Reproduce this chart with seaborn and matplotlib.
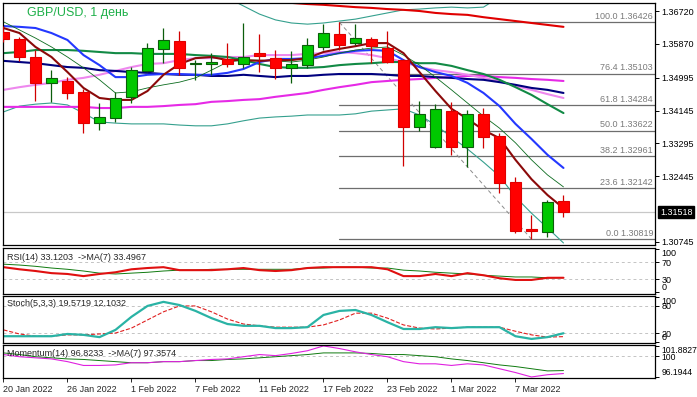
import matplotlib
matplotlib.use('Agg')
import matplotlib.pyplot as plt
import matplotlib.transforms as mtransforms
import seaborn as sns

# --- daily candles, 20 Jan 2022 .. 10 Mar 2022 ---
days = list(range(36))
opens = [1.36177, 1.35996, 1.35530, 1.34858, 1.34910, 1.34625, 1.33823, 1.33952, 1.34496, 1.35168,
         1.35737, 1.35944, 1.35349, 1.35349, 1.35478, 1.35349, 1.35634, 1.35504, 1.35246, 1.35323,
         1.35789, 1.36125, 1.35893, 1.35996, 1.35763, 1.35453, 1.33720, 1.33202, 1.34134, 1.33202,
         1.34056, 1.33487, 1.32297, 1.31081, 1.31003, 1.31805]
highs = [1.36332, 1.36048, 1.35711, 1.35194, 1.35013, 1.34703, 1.34340, 1.34625, 1.35272, 1.35893,
         1.36281, 1.36203, 1.35453, 1.35634, 1.35893, 1.36420, 1.36125, 1.35711, 1.35686, 1.36022,
         1.36384, 1.36426, 1.36384, 1.36048, 1.36203, 1.35478, 1.34392, 1.34315, 1.34366, 1.34159,
         1.34211, 1.33564, 1.32426, 1.31443, 1.31831, 1.31960]
lows = [1.35918, 1.35427, 1.34392, 1.34366, 1.34444, 1.33564, 1.33642, 1.33849, 1.34340, 1.35142,
        1.35375, 1.35065, 1.34935, 1.35065, 1.35272, 1.35246, 1.35142, 1.34961, 1.34858, 1.35246,
        1.35711, 1.35711, 1.35841, 1.35375, 1.35375, 1.32711, 1.33616, 1.33176, 1.32995, 1.32685,
        1.33176, 1.32012, 1.30977, 1.30819, 1.30873, 1.31391]
closes = [1.35996, 1.35530, 1.34858, 1.34987, 1.34599, 1.33823, 1.33978, 1.34470, 1.35194, 1.35763,
          1.35970, 1.35246, 1.35375, 1.35401, 1.35349, 1.35530, 1.35556, 1.35246, 1.35349, 1.35841,
          1.36151, 1.35841, 1.36022, 1.35815, 1.35401, 1.33720, 1.34056, 1.34185, 1.33202, 1.34056,
          1.33461, 1.32271, 1.31029, 1.31029, 1.31779, 1.31518]

# --- moving averages / bands ---
ma_maroon = [1.3628, 1.3615, 1.3579, 1.3553, 1.3514, 1.3473, 1.3447, 1.3442, 1.3442, 1.3465,
             1.3507, 1.3535, 1.3550, 1.3553, 1.3545, 1.3545, 1.3543, 1.3545, 1.3545, 1.3550,
             1.3566, 1.3574, 1.3581, 1.3589, 1.3589, 1.3563, 1.3514, 1.3465, 1.3419, 1.3393,
             1.3364, 1.3343, 1.3287, 1.3237, 1.3196, 1.3162]
ma_thin = [1.3644, 1.3623, 1.3602, 1.3579, 1.3553, 1.3525, 1.3494, 1.3460, 1.3463, 1.3473,
           1.3481, 1.3488, 1.3499, 1.3519, 1.3540, 1.3545, 1.3545, 1.3543, 1.3540, 1.3545,
           1.3553, 1.3563, 1.3571, 1.3576, 1.3579, 1.3558, 1.3532, 1.3501, 1.3468, 1.3434,
           1.3400, 1.3369, 1.3331, 1.3287, 1.3248, 1.3217]
ma_blue = [1.3633, 1.3631, 1.3628, 1.3615, 1.3597, 1.3558, 1.3532, 1.3501, 1.3501, 1.3507,
           1.3509, 1.3509, 1.3507, 1.3507, 1.3512, 1.3522, 1.3540, 1.3548, 1.3548, 1.3550,
           1.3556, 1.3563, 1.3569, 1.3571, 1.3569, 1.3545, 1.3527, 1.3514, 1.3504, 1.3486,
           1.3460, 1.3426, 1.3380, 1.3341, 1.3300, 1.3266]
ma_navy = [1.3543, 1.3540, 1.3537, 1.3532, 1.3527, 1.3525, 1.3519, 1.3517, 1.3514, 1.3512,
           1.3509, 1.3507, 1.3507, 1.3504, 1.3504, 1.3507, 1.3504, 1.3501, 1.3504, 1.3504,
           1.3507, 1.3509, 1.3509, 1.3509, 1.3507, 1.3504, 1.3504, 1.3501, 1.3499, 1.3496,
           1.3494, 1.3488, 1.3481, 1.3473, 1.3468, 1.3460]
ma_green = [1.3563, 1.3566, 1.3571, 1.3571, 1.3571, 1.3569, 1.3566, 1.3563, 1.3563, 1.3561,
            1.3561, 1.3561, 1.3558, 1.3556, 1.3553, 1.3545, 1.3535, 1.3527, 1.3525, 1.3525,
            1.3527, 1.3532, 1.3535, 1.3537, 1.3540, 1.3540, 1.3537, 1.3537, 1.3530, 1.3519,
            1.3509, 1.3494, 1.3475, 1.3455, 1.3431, 1.3408]
ma_violet = [1.3468, 1.3475, 1.3481, 1.3486, 1.3494, 1.3499, 1.3507, 1.3517, 1.3527, 1.3535,
             1.3537, 1.3545, 1.3550, 1.3550, 1.3553, 1.3553, 1.3558, 1.3558, 1.3558, 1.3561,
             1.3563, 1.3566, 1.3563, 1.3558, 1.3550, 1.3540, 1.3527, 1.3519, 1.3514, 1.3507,
             1.3499, 1.3491, 1.3478, 1.3468, 1.3457, 1.3447]
ma_magenta = [1.3424, 1.3424, 1.3424, 1.3424, 1.3424, 1.3424, 1.3421, 1.3421, 1.3424, 1.3424,
              1.3426, 1.3429, 1.3431, 1.3437, 1.3439, 1.3442, 1.3444, 1.3450, 1.3455, 1.3460,
              1.3468, 1.3475, 1.3481, 1.3488, 1.3491, 1.3494, 1.3496, 1.3499, 1.3501, 1.3504,
              1.3504, 1.3501, 1.3499, 1.3496, 1.3494, 1.3491]
red_days = list(range(16, 36))
ma_red = [1.3698, 1.3695, 1.3693, 1.3690, 1.3688, 1.3685, 1.3682, 1.3680, 1.3677, 1.3675,
          1.3672, 1.3667, 1.3664, 1.3662, 1.3656, 1.3651, 1.3646, 1.3641, 1.3636, 1.3631]
bb_up_days = list(range(14, 32))
bb_upper = [1.3706, 1.3685, 1.3664, 1.3649, 1.3641, 1.3638, 1.3641, 1.3646, 1.3651, 1.3659,
            1.3667, 1.3675, 1.3677, 1.3680, 1.3682, 1.3680, 1.3682, 1.3708]
bb_lower = [1.3411, 1.3426, 1.3431, 1.3434, 1.3429, 1.3408, 1.3385, 1.3382, 1.3380, 1.3380,
            1.3380, 1.3377, 1.3375, 1.3375, 1.3380, 1.3388, 1.3395, 1.3398, 1.3400, 1.3403,
            1.3403, 1.3403, 1.3406, 1.3413, 1.3416, 1.3419, 1.3403, 1.3377, 1.3346, 1.3315,
            1.3281, 1.3245, 1.3191, 1.3149, 1.3111, 1.3072]

fib_names = ['100.0', '76.4', '61.8', '50.0', '38.2', '23.6', '0.0']
fib_levels = [1.36426, 1.35103, 1.34284, 1.33622, 1.32961, 1.32142, 1.30819]
fib_start = 21
fib_end = 33
last_price = 1.31518

# --- oscillators ---
rsi = [58, 53, 49, 44, 42, 37, 42, 46, 53, 56, 58, 51, 51, 51, 53, 56, 51, 49, 51, 56,
       58, 58, 58, 58, 53, 37, 37, 42, 37, 44, 39, 32, 28, 28, 33, 33.12]
rsi_ma = [65, 63, 60, 56, 53, 49, 44, 42, 44, 46, 49, 51, 51, 53, 53, 53, 53, 53, 53, 56,
          56, 58, 58, 56, 56, 51, 49, 46, 44, 42, 39, 37, 35, 35, 33, 33.50]
stoch_k = [13, 13, 13, 13, 18, 16, 11, 27, 56, 80, 89, 82, 69, 53, 40, 36, 36, 31, 31, 33,
           60, 69, 71, 60, 44, 29, 29, 33, 31, 33, 33, 33, 13, 7, 11, 19.57]
stoch_d = [27, 18, 13, 13, 16, 16, 18, 20, 31, 49, 67, 80, 80, 67, 51, 40, 36, 33, 33, 33,
           38, 49, 64, 64, 53, 38, 31, 29, 31, 33, 33, 33, 24, 16, 11, 12.10]
mom = [100.3, 99.9, 99.7, 99.5, 99.0, 98.3, 98.3, 98.4, 98.8, 98.8, 99.0, 99.0, 99.2, 99.4,
       99.5, 99.9, 100.3, 100.1, 100.5, 101.0, 101.88, 101.4, 100.8, 100.3, 99.9, 99.0, 98.6,
       98.6, 98.3, 98.6, 98.4, 97.7, 97.0, 96.19, 96.6, 96.82]
mom_ma = [100.6, 100.3, 99.9, 99.7, 99.5, 99.4, 99.2, 99.0, 98.8, 98.8, 99.0, 99.0, 99.2,
          99.2, 99.4, 99.5, 99.7, 99.9, 100.1, 100.3, 100.6, 100.6, 100.6, 100.5, 100.3, 100.3,
          100.1, 99.9, 99.5, 99.2, 98.8, 98.4, 98.1, 97.7, 97.3, 97.36]

tick_pos = [0, 4, 8, 12, 16, 20, 24, 28, 32]
tick_labels = ['20 Jan 2022', '26 Jan 2022', '1 Feb 2022', '7 Feb 2022', '11 Feb 2022',
               '17 Feb 2022', '23 Feb 2022', '1 Mar 2022', '7 Mar 2022']
price_ticks = [1.36720, 1.35870, 1.34995, 1.34145, 1.33295, 1.32445, 1.30745]

sns.set_style('white')
plt.rcParams['font.family'] = ['Liberation Sans', 'DejaVu Sans']
FS = 6.5

W, H = 697, 397
fig = plt.figure(figsize=(W / 100, H / 100), dpi=100)


def panel(top, bottom):
    left, right = 3, 655
    return fig.add_axes([left / W, 1 - bottom / H, (right - left) / W, (bottom - top) / H])


ax = panel(3, 245)
ax_rsi = panel(248, 294)
ax_sto = panel(296, 343)
ax_mom = panel(345, 378)

xlim = (-0.03, 40.72)
for a in (ax, ax_rsi, ax_sto, ax_mom):
    a.set_xlim(*xlim)
    a.set_facecolor('white')
    for sp in a.spines.values():
        sp.set_visible(True)
        sp.set_color('black')
        sp.set_linewidth(0.9)
    a.yaxis.tick_right()
    a.tick_params(axis='y', direction='out', length=3, width=0.7, labelsize=FS, pad=1.5,
                  colors='black')
    a.tick_params(axis='x', bottom=False, labelbottom=False)
    a.grid(False)

# --- main price panel ---
ax.set_ylim(1.30667, 1.36927)
ax.axhline(last_price, color='#c8c8c8', lw=0.9, zorder=1)

for name, lvl in zip(fib_names, fib_levels):
    ax.plot([fib_start, xlim[1]], [lvl, lvl], color='#6e6e6e', lw=0.9, zorder=1)
    ax.annotate(f'{name} {lvl:.5f}', xy=(0.997, lvl), xycoords=('axes fraction', 'data'),
                xytext=(0, 1), textcoords='offset points', ha='right', va='bottom',
                fontsize=FS, color='#7a7a7a')
ax.plot([fib_start, fib_end], [fib_levels[0], fib_levels[-1]], color='#8c8c8c', lw=0.7,
        ls=(0, (4, 3)), zorder=1)

lines = [
    (days, bb_lower, '#35a08e', 0.8),
    (bb_up_days, bb_upper, '#35a08e', 0.8),
    (red_days, ma_red, '#e00000', 1.5),
    (days, ma_magenta, '#e62ae6', 1.5),
    (days, ma_violet, '#ee88ee', 1.5),
    (days, ma_navy, '#00007e', 1.5),
    (days, ma_green, '#128a45', 1.5),
    (days, ma_blue, '#2438ff', 1.5),
    (days, ma_thin, '#0b6b1e', 0.6),
    (days, ma_maroon, '#8b0a0a', 1.5),
]
for xs, ys, c, lw in lines:
    sns.lineplot(x=xs, y=ys, ax=ax, color=c, linewidth=lw, legend=False, zorder=2)

for d, o, h, l, c in zip(days, opens, highs, lows, closes):
    bull = c >= o
    wick = '#0b5d0b' if bull else '#d00000'
    face = '#00c800' if bull else '#ff0000'
    edge = '#0b5d0b' if bull else '#e00000'
    ax.vlines(d, l, h, color=wick, lw=0.9, zorder=3)
    ax.bar(d, abs(c - o), bottom=min(o, c), width=0.66, color=face, edgecolor=edge,
           linewidth=0.8, zorder=4)

ax.set_yticks(price_ticks)
ax.set_yticklabels([f'{v:.5f}' for v in price_ticks])
trans = mtransforms.blended_transform_factory(ax.transAxes, ax.transData)
ax.text(1.0 + 5 / 652, last_price, f'{last_price:.5f}', transform=trans, ha='left',
        va='center', fontsize=FS, color='white',
        bbox=dict(facecolor='black', edgecolor='black', pad=1.3))


def edge_labels(a):
    # MT4 keeps the window's max / min labels inside the panel
    labs = a.get_yticklabels()
    labs[0].set_verticalalignment('top')
    labs[-1].set_verticalalignment('bottom')


# --- RSI ---
ax_rsi.set_ylim(-5, 103)
for v in (70, 30):
    ax_rsi.axhline(v, color='#c4c4c4', lw=0.7, ls=(0, (3, 3)))
sns.lineplot(x=days, y=rsi_ma, ax=ax_rsi, color='#0f7a0f', linewidth=0.7, legend=False)
sns.lineplot(x=days, y=rsi, ax=ax_rsi, color='#e01010', linewidth=1.5, legend=False)
ax_rsi.set_yticks([100, 70, 30, 0])
ax_rsi.set_yticklabels(['100', '70', '30', '0'])
edge_labels(ax_rsi)

# --- Stochastic ---
ax_sto.set_ylim(-2, 102)
for v in (80, 20):
    ax_sto.axhline(v, color='#c4c4c4', lw=0.7, ls=(0, (3, 3)))
sns.lineplot(x=days, y=stoch_d, ax=ax_sto, color='#e02020', linewidth=0.8, linestyle='--',
             legend=False)
sns.lineplot(x=days, y=stoch_k, ax=ax_sto, color='#2ab3a5', linewidth=1.6, legend=False)
ax_sto.set_yticks([100, 80, 20, 0])
ax_sto.set_yticklabels(['100', '80', '20', '0'])
edge_labels(ax_sto)

# --- Momentum ---
ax_mom.set_ylim(96.0, 102.05)
ax_mom.axhline(100, color='#c4c4c4', lw=0.7, ls=(0, (3, 3)))
sns.lineplot(x=days, y=mom_ma, ax=ax_mom, color='#0f7a0f', linewidth=0.7, legend=False)
sns.lineplot(x=days, y=mom, ax=ax_mom, color='#e020e0', linewidth=0.8, legend=False)
ax_mom.set_yticks([101.8827, 100, 96.1944])
ax_mom.set_yticklabels(['101.8827', '100', '96.1944'])
ax_mom.tick_params(axis='y', labelsize=6.2)
edge_labels(ax_mom)
ax_mom.set_xticks(tick_pos)
ax_mom.set_xticklabels(tick_labels, ha='left')
ax_mom.tick_params(axis='x', bottom=True, labelbottom=True, direction='out', length=3,
                   width=0.7, labelsize=FS, pad=2)

for a in (ax, ax_rsi, ax_sto, ax_mom):
    a.set_xlabel('')
    a.set_ylabel('')

# --- labels ---
fig.text(27 / W, 1 - 13 / H, 'GBP/USD, 1 день', fontsize=9, color='#1fb04a', va='center')
fig.text(7 / W, 1 - 257 / H, 'RSI(14) 33.1203  ->MA(7) 33.4967', fontsize=FS, va='center')
fig.text(7 / W, 1 - 304 / H, 'Stoch(5,3,3) 19.5719 12.1032', fontsize=FS, va='center')
fig.text(7 / W, 1 - 353 / H, 'Momentum(14) 96.8233  ->MA(7) 97.3574', fontsize=FS,
         va='center')

fig.savefig('out.png', dpi=100, facecolor='white')
